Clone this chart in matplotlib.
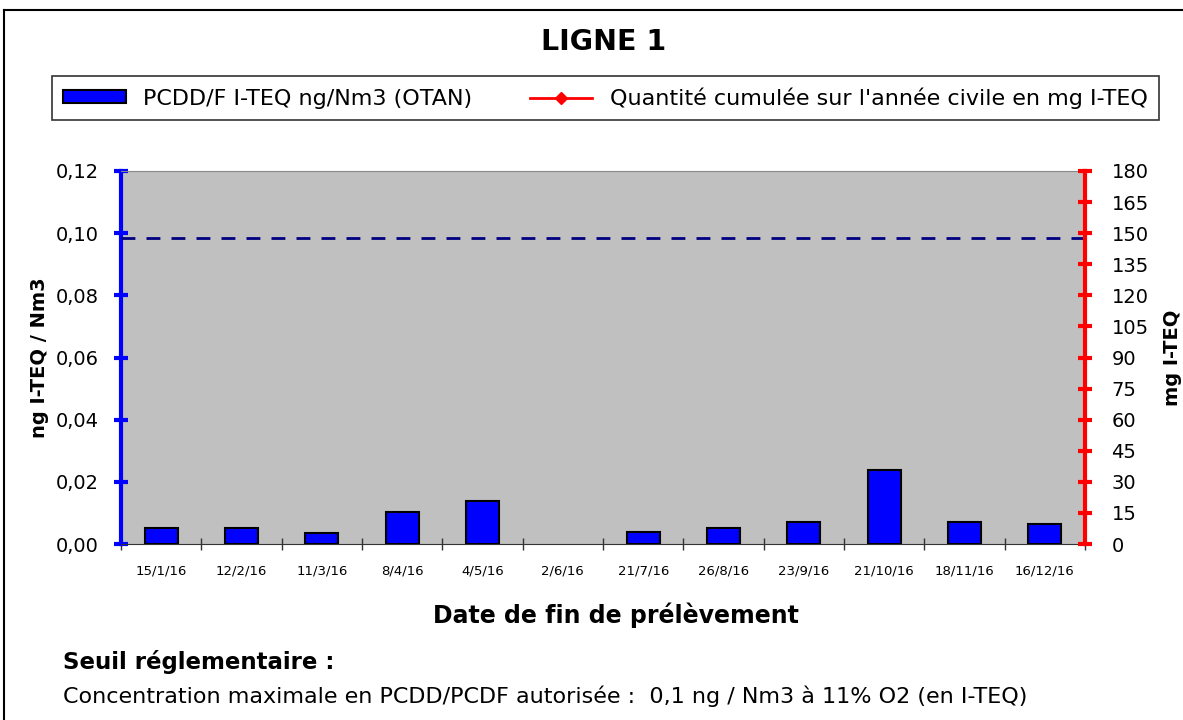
import matplotlib.pyplot as plt
from matplotlib.lines import Line2D
from matplotlib.patches import Patch
import numpy as np

plt.rcParams['font.family'] = ['DejaVu Sans']

# data
dates = ['15/1/16', '12/2/16', '11/3/16', '8/4/16', '4/5/16', '2/6/16',
         '21/7/16', '26/8/16', '23/9/16', '21/10/16', '18/11/16', '16/12/16']
pcdd = [0.005, 0.005, 0.0034, 0.0103, 0.0139, 0.0,
        0.0039, 0.005, 0.0071, 0.0238, 0.007, 0.0065]
seuil = 0.0985
left_ticks = [0.0, 0.02, 0.04, 0.06, 0.08, 0.10, 0.12]
right_ticks = list(range(0, 181, 15))

fig = plt.figure(figsize=(11.83, 7.2), dpi=100)
ax = fig.add_axes([0.1023, 0.2444, 0.8149, 0.5181])
ax.set_facecolor('#c0c0c0')

x = np.arange(len(dates))
# no outline for empty samples
edge_w = [1.5 if v > 0 else 0 for v in pcdd]
ax.bar(x, pcdd, width=0.41, color='#0000ff', edgecolor='black', linewidth=edge_w, zorder=3)
ax.axhline(seuil, color='#000080', linestyle=(0, (5, 4)), linewidth=2, zorder=4)

ax.set_xlim(-0.5, len(dates) - 0.5)
ax.set_ylim(0, 0.12)
ax.set_yticks(left_ticks)
ax.set_yticklabels([('%.2f' % v).replace('.', ',') for v in left_ticks], fontsize=14)
ax.set_xticks(x)
ax.set_xticklabels(dates, fontsize=9.5)
ax.tick_params(axis='x', length=0, pad=15)
ax.set_xticks(np.arange(-0.5, len(dates)), minor=True)
ax.tick_params(axis='x', which='minor', length=8, width=1, direction='inout', color='#333333')

ax.spines['top'].set_color('#888888')
ax.spines['bottom'].set_color('#333333')
ax.spines['left'].set_color('#0000ff')
ax.spines['left'].set_linewidth(3)
ax.spines['right'].set_visible(False)
ax.tick_params(axis='y', colors='#0000ff', length=10, width=3, direction='inout', labelcolor='black', pad=11)

ax2 = ax.twinx()
ax2.set_ylim(0, 180)
ax2.set_yticks(right_ticks)
ax2.set_yticklabels([str(v) for v in right_ticks], fontsize=14)
ax2.spines['right'].set_color('#ff0000')
ax2.spines['right'].set_linewidth(3)
for s in ['top', 'left', 'bottom']:
    ax2.spines[s].set_visible(False)
ax2.tick_params(axis='y', colors='#ff0000', length=10, width=3, direction='inout', labelcolor='black', pad=14)

ax.set_ylabel('ng I-TEQ / Nm3', fontsize=14, fontweight='bold', labelpad=5)
ax2.set_ylabel('mg I-TEQ', fontsize=14, fontweight='bold', labelpad=10)

fig.text(0.51, 0.942, 'LIGNE 1', fontsize=20.5, fontweight='bold', ha='center', va='center')
fig.text(0.521, 0.146, 'Date de fin de prélèvement', fontsize=17, fontweight='bold', ha='center', va='center')
fig.text(0.053, 0.081, 'Seuil réglementaire :', fontsize=16.5, fontweight='bold', ha='left', va='center')
fig.text(0.053, 0.033, 'Concentration maximale en PCDD/PCDF autorisée :  0,1 ng / Nm3 à 11% O2 (en I-TEQ)',
         fontsize=16, ha='left', va='center')

handles = [Patch(facecolor='#0000ff', edgecolor='black', linewidth=1.5),
           Line2D([0], [0], color='#ff0000', linewidth=2, marker='D', markersize=6)]
leg = fig.legend(handles, ['PCDD/F I-TEQ ng/Nm3 (OTAN)', "Quantité cumulée sur l'année civile en mg I-TEQ"],
                 loc='center', bbox_to_anchor=(0.512, 0.864), ncol=2, fontsize=16,
                 frameon=True, fancybox=False, edgecolor='black', columnspacing=2.6,
                 handlelength=2.8, handleheight=0.5, handletextpad=0.8, borderpad=0.5,
                 borderaxespad=0)
leg.get_frame().set_linewidth(1.2)

# outer frame
fig.add_artist(Line2D([0.0034, 0.0034], [0, 0.986], color='black', linewidth=1.5, transform=fig.transFigure))
fig.add_artist(Line2D([0.0034, 1], [0.986, 0.986], color='black', linewidth=1.5, transform=fig.transFigure))

fig.savefig('out.png', dpi=100)
